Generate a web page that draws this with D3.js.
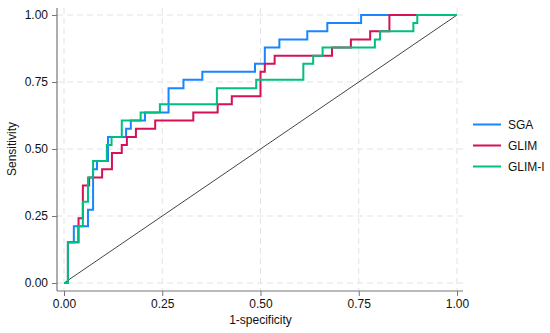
<!DOCTYPE html>
<html>
<head>
<meta charset="utf-8">
<script src="https://cdn.jsdelivr.net/npm/d3@7"></script>
<style>
  body { margin: 0; background: #fff; }
  svg { display: block; font-family: "Liberation Sans", Arial, Helvetica, sans-serif; }
</style>
</head>
<body>
<script>
// tick values on both axes
var ticks = [0, 0.25, 0.5, 0.75, 1];

// ROC step points: (1-specificity where the curve jumps, sensitivity after the jump)
var sgaFpr  = [0, 0.010, 0.025, 0.061, 0.074, 0.084, 0.112, 0.158, 0.170, 0.206, 0.266, 0.304, 0.352, 0.486, 0.511, 0.548, 0.619, 0.670, 0.756, 1];
var sgaTpr  = [0, 0.152, 0.212, 0.273, 0.424, 0.455, 0.545, 0.576, 0.606, 0.636, 0.727, 0.758, 0.788, 0.818, 0.879, 0.909, 0.939, 0.970, 1, 1];

var glimFpr = [0, 0.010, 0.037, 0.048, 0.064, 0.097, 0.122, 0.147, 0.160, 0.183, 0.232, 0.329, 0.391, 0.427, 0.500, 0.511, 0.536, 0.682, 0.730, 0.779, 0.828, 1];
var glimTpr = [0, 0.152, 0.242, 0.364, 0.394, 0.424, 0.485, 0.515, 0.545, 0.576, 0.606, 0.636, 0.667, 0.697, 0.788, 0.818, 0.848, 0.879, 0.909, 0.939, 1, 1];

var gliFpr  = [0, 0.010, 0.036, 0.048, 0.061, 0.074, 0.109, 0.121, 0.147, 0.195, 0.244, 0.389, 0.489, 0.609, 0.634, 0.658, 0.791, 0.804, 0.889, 0.899, 1];
var gliTpr  = [0, 0.152, 0.212, 0.303, 0.394, 0.455, 0.515, 0.545, 0.606, 0.636, 0.667, 0.727, 0.758, 0.818, 0.848, 0.879, 0.909, 0.939, 0.970, 1, 1];

var seriesNames = ["SGA", "GLIM", "GLIM-I"];
var seriesColors = ["#1a85ff", "#d41159", "#00bf7f"];

var width = 550, height = 333;

var svg = d3.select("body").append("svg")
    .attr("width", width)
    .attr("height", height);

var x = d3.scaleLinear().domain([0, 1]).range([64, 457]);
var y = d3.scaleLinear().domain([0, 1]).range([283, 15]);

var axisX = 57, axisY = 291, plotTop = 8, plotRight = 463;

// gridlines
svg.append("g").selectAll("line.h")
    .data(ticks)
    .enter().append("line")
    .attr("x1", axisX).attr("x2", plotRight)
    .attr("y1", function(d) { return y(d); })
    .attr("y2", function(d) { return y(d); })
    .attr("stroke", "#e3e3e3")
    .attr("stroke-width", 1)
    .attr("stroke-dasharray", "6,4");

svg.append("g").selectAll("line.v")
    .data(ticks)
    .enter().append("line")
    .attr("y1", plotTop).attr("y2", axisY)
    .attr("x1", function(d) { return x(d); })
    .attr("x2", function(d) { return x(d); })
    .attr("stroke", "#e3e3e3")
    .attr("stroke-width", 1)
    .attr("stroke-dasharray", "6,4");

// reference diagonal
svg.append("line")
    .attr("x1", x(0)).attr("y1", y(0))
    .attr("x2", x(1)).attr("y2", y(1))
    .attr("stroke", "#444")
    .attr("stroke-width", 1);

// curves
var line = d3.line()
    .x(function(d) { return x(d[0]); })
    .y(function(d) { return y(d[1]); })
    .curve(d3.curveStepAfter);

var curves = [
  d3.zip(sgaFpr, sgaTpr),
  d3.zip(glimFpr, glimTpr),
  d3.zip(gliFpr, gliTpr)
];

curves.forEach(function(c, i) {
  svg.append("path")
      .datum(c)
      .attr("d", line)
      .attr("fill", "none")
      .attr("stroke", seriesColors[i])
      .attr("stroke-width", 2);
});

// axes
var yAxis = d3.axisLeft(y).tickValues(ticks).tickFormat(d3.format(".2f")).tickSize(5).tickPadding(4);
var xAxis = d3.axisBottom(x).tickValues(ticks).tickFormat(d3.format(".2f")).tickSize(5).tickPadding(3);

var gy = svg.append("g")
    .attr("transform", "translate(" + axisX + ",0)")
    .call(yAxis);
gy.select(".domain").remove();

var gx = svg.append("g")
    .attr("transform", "translate(0," + axisY + ")")
    .call(xAxis);
gx.select(".domain").remove();

[gx, gy].forEach(function(g) {
  g.selectAll("line").attr("stroke", "#777");
  g.selectAll("text").attr("fill", "#111").style("font-size", "12px")
      .style("font-family", "'Liberation Sans', Arial, sans-serif");
});

svg.append("line")
    .attr("x1", axisX).attr("x2", axisX)
    .attr("y1", plotTop).attr("y2", axisY)
    .attr("stroke", "#777").attr("stroke-width", 1.2);
svg.append("line")
    .attr("x1", axisX).attr("x2", plotRight)
    .attr("y1", axisY).attr("y2", axisY)
    .attr("stroke", "#777").attr("stroke-width", 1.2);

// axis titles
svg.append("text")
    .attr("x", (x(0) + x(1)) / 2)
    .attr("y", 324)
    .attr("text-anchor", "middle")
    .style("font-size", "12px")
    .attr("fill", "#111")
    .text("1-specificity");

svg.append("text")
    .attr("transform", "translate(16," + y(0.5) + ") rotate(-90)")
    .attr("text-anchor", "middle")
    .style("font-size", "12px")
    .attr("fill", "#111")
    .text("Sensitivity");

// legend
var legend = svg.append("g").selectAll("g")
    .data(seriesNames)
    .enter().append("g")
    .attr("transform", function(d, i) { return "translate(473," + (124.5 + i * 21) + ")"; });

legend.append("line")
    .attr("x1", 0).attr("x2", 28)
    .attr("stroke", function(d, i) { return seriesColors[i]; })
    .attr("stroke-width", 2);

legend.append("text")
    .attr("x", 35)
    .attr("y", 4.5)
    .style("font-size", "12px")
    .attr("fill", "#111")
    .text(function(d) { return d; });
</script>
</body>
</html>
